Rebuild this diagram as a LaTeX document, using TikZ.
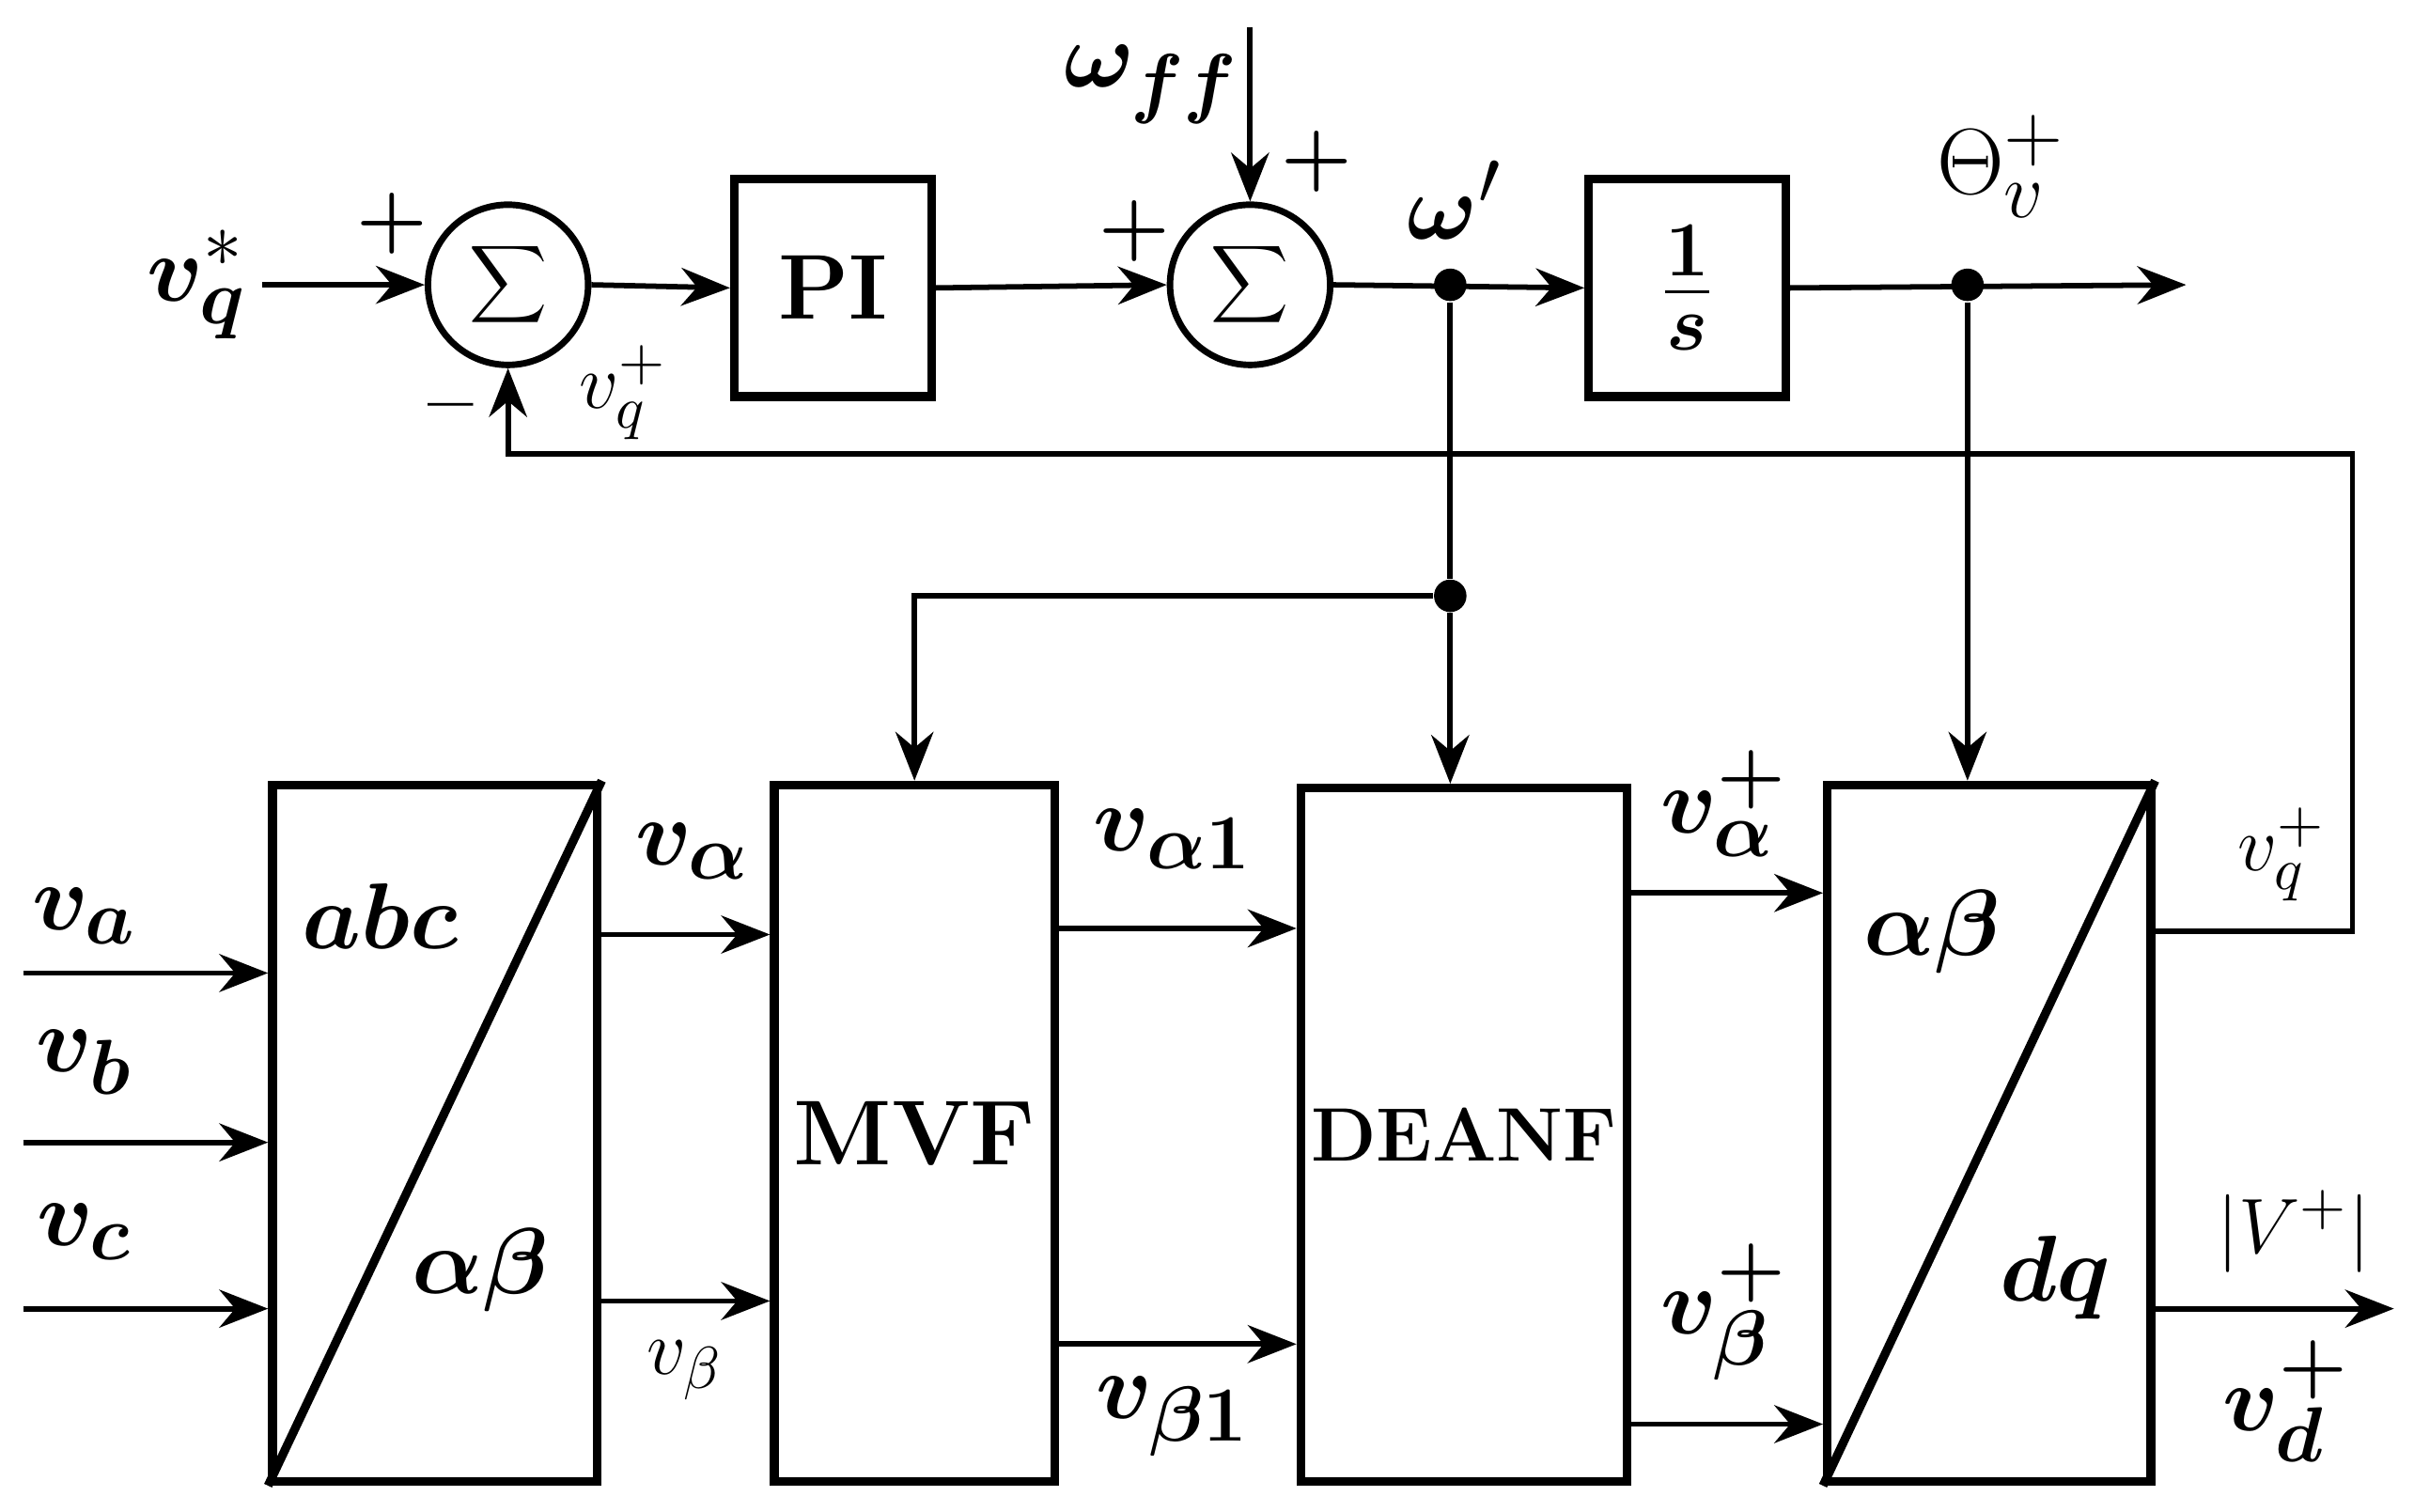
\documentclass[tikz,border=0pt]{standalone}
\usepackage{bm}
\usetikzlibrary{arrows.meta}
\begin{document}
\begin{tikzpicture}[x=0.01cm,y=-0.01cm,
 blk/.style={draw,line width=1.6pt,inner sep=0pt},
 sum/.style={draw,circle,line width=1.2pt,minimum size=1.04cm,inner sep=0pt,font=\fontsize{18}{22}\selectfont},
 ar/.style={line width=1pt,-{Stealth[length=9pt,width=7pt]}},
 ln/.style={line width=1pt},
 lb/.style={font=\fontsize{19}{23}\selectfont},
 sl/.style={font=\fontsize{15}{18}\selectfont},
 pm/.style={font=\bfseries\fontsize{15}{18}\selectfont},
 dot/.style={circle,fill,inner sep=0pt,minimum size=6pt}]
\useasboundingbox (0,0) rectangle (1568,982);
% top row
\node[sum] (s1) at (330,185) {$\displaystyle\sum$};
\node[blk,minimum width=1.28cm,minimum height=1.41cm,font=\bfseries\fontsize{17}{20}\selectfont] (pi) at (541,187) {PI};
\node[sum] (s2) at (812,185) {$\displaystyle\sum$};
\node[blk,minimum width=1.28cm,minimum height=1.41cm,font=\fontsize{19}{23}\selectfont] (ints) at (1096,187) {$\bm{\frac{1}{s}}$};
\coordinate (vin) at (170,185);
\coordinate (wff) at (812,18);
\coordinate (out) at (1420,185);
\node[dot] (d1) at (942,185) {};
\node[dot] (d2) at (1278,185) {};
\node[dot] (d3) at (942,387) {};
\node[lb] at (128,185) {$\bm{v}^{*}_{\bm q}$};
\node[lb] at (748,55) {$\bm{\omega}_{\bm{ff}}$};
\node[lb] at (945,130) {$\bm{\omega}'$};
\node[lb] at (1300,108) {$\Theta^{+}_{v}$};
\node[sl] at (405,255) {$v^{+}_{q}$};
\node[pm] at (255,145) {+};
\node[pm] at (737,150) {+};
\node[pm] at (855,105) {+};
\node[pm] at (293,270) {\textendash};
% bottom boxes
\node[blk,minimum width=2.11cm,minimum height=4.52cm] (abc) at (282.5,736) {};
\draw[line width=1.6pt] (abc.south west) -- (abc.north east);
\node[blk,minimum width=1.82cm,minimum height=4.52cm,font=\bfseries\fontsize{17}{20}\selectfont] (mvf) at (594,736) {MVF};
\node[blk,minimum width=2.12cm,minimum height=4.50cm,font=\bfseries\fontsize{14}{17}\selectfont] (deanf) at (951,737) {DEANF};
\node[blk,minimum width=2.10cm,minimum height=4.52cm] (dq) at (1292,736) {};
\draw[line width=1.6pt] (dq.south west) -- (dq.north east);
\node[lb] at (247,595) {$\bm{abc}$};
\node[lb] at (312,825) {$\bm{\alpha\beta}$};
\node[lb] at (1255,605) {$\bm{\alpha\beta}$};
\node[lb] at (1335,830) {$\bm{dq}$};
% inputs
\coordinate (ia) at (15,632); \coordinate (ib) at (15,742); \coordinate (ic) at (15,850);
\draw[ar] (ia) -- (abc.west |- ia);
\draw[ar] (ib) -- (abc.west |- ib);
\draw[ar] (ic) -- (abc.west |- ic);
\node[lb] at (55,595) {$\bm{v}_{\bm a}$};
\node[lb] at (55,690) {$\bm{v}_{\bm b}$};
\node[lb] at (55,800) {$\bm{v}_{\bm c}$};
% connections
\draw[ar] (vin) -- (s1.west);
\draw[ar] (s1.east) -- (pi.west);
\draw[ar] (pi.east) -- (s2.west);
\draw[ar] (wff) -- (s2.north);
\draw[ar] (s2.east) -- (ints.west);
\draw[ar] (ints.east) -- (out);
\draw[ln] (d1) -- (d3);
\draw[ar] (d3) -- (deanf.north -| d3);
\draw[ar] (d3) -| (mvf.north);
\draw[ar] (d2) -- (dq.north -| d2);
\coordinate (fb1) at (1528,605);
\coordinate (fb2) at (1528,295);
\draw[ar] (dq.east |- fb1) -- (fb1) -- (fb2) -| (s1.south);
\node[sl] at (1482,555) {$v^{+}_{q}$};
\draw[ar] (abc.east |- 0,607) -- (mvf.west |- 0,607);
\draw[ar] (abc.east |- 0,845) -- (mvf.west |- 0,845);
\node[lb] at (450,553) {$\bm{v}_{\bm\alpha}$};
\node[sl] at (445,890) {$v_{\beta}$};
\draw[ar] (mvf.east |- 0,603) -- (deanf.west |- 0,603);
\draw[ar] (mvf.east |- 0,873) -- (deanf.west |- 0,873);
\node[lb] at (762,545) {$\bm{v}_{\bm{\alpha}\mathbf 1}$};
\node[lb] at (762,920) {$\bm{v}_{\bm{\beta}\mathbf 1}$};
\draw[ar] (deanf.east |- 0,580) -- (dq.west |- 0,580);
\draw[ar] (deanf.east |- 0,925) -- (dq.west |- 0,925);
\node[lb] at (1120,522) {$\bm{v}^{\bm +}_{\bm\alpha}$};
\node[lb] at (1120,852) {$\bm{v}^{\bm +}_{\bm\beta}$};
\coordinate (o2) at (1555,850);
\draw[ar] (dq.east |- o2) -- (o2);
\node[sl] at (1490,800) {$|V^{+}|$};
\node[lb] at (1485,910) {$\bm{v}^{\bm +}_{\bm d}$};
\end{tikzpicture}
\end{document}
